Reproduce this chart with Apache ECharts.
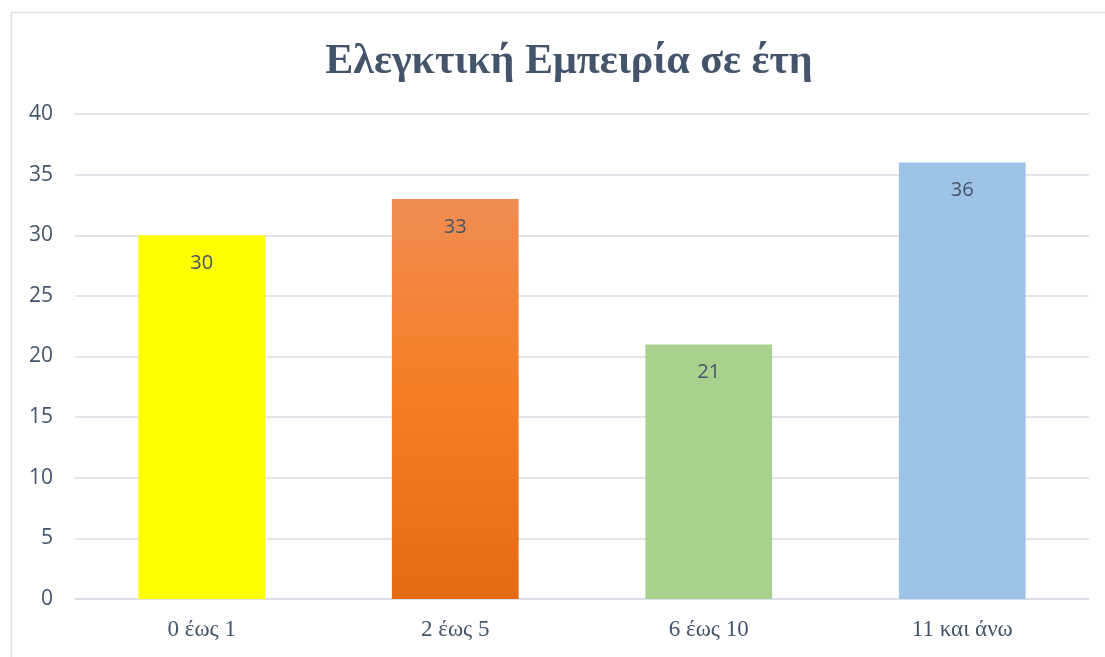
<!DOCTYPE html>
<html>
<head>
<meta charset="utf-8">
<title>Ελεγκτική Εμπειρία σε έτη</title>
<script src="https://cdn.jsdelivr.net/npm/echarts@6/dist/echarts.min.js"></script>
<style>
  html, body { margin: 0; padding: 0; background: #fff; }
  #chart { width: 1105px; height: 657px; }
</style>
</head>
<body>
<div id="chart"></div>
<script>
// δεδομένα
const categories = ['0 έως 1', '2 έως 5', '6 έως 10', '11 και άνω'];
const values = [30, 33, 21, 36];
const yTicks = [0, 5, 10, 15, 20, 25, 30, 35, 40];

const textColor = '#44546A';

// χρώματα ανά στήλη
const barColors = [
  '#FFFF00',
  new echarts.graphic.LinearGradient(0, 0, 0, 1, [
    { offset: 0, color: '#F08C52' },
    { offset: 0.5, color: '#F57D22' },
    { offset: 1, color: '#E46B14' }
  ]),
  '#A9D18E',
  '#9DC3E6'
];

const chart = echarts.init(document.getElementById('chart'));

chart.setOption({
  animation: false,
  graphic: [{
    type: 'rect',
    shape: { x: 11.5, y: 12.5, width: 1200, height: 700 },
    style: { fill: 'none', stroke: '#DCE2EA', lineWidth: 1.5 },
    silent: true
  }],
  title: {
    text: 'Ελεγκτική Εμπειρία σε έτη',
    left: 564,
    textAlign: 'center',
    top: 36,
    textStyle: {
      fontFamily: '"Liberation Serif", "DejaVu Serif", serif',
      fontWeight: 'bold',
      fontSize: 42,
      color: textColor
    }
  },
  grid: { left: 75, right: 16, top: 114, bottom: 58 },
  xAxis: {
    type: 'category',
    data: categories,
    axisLine: { lineStyle: { color: '#D9DEE6', width: 1.5 } },
    axisTick: { show: false },
    axisLabel: {
      margin: 19,
      fontFamily: '"Liberation Serif", "DejaVu Serif", serif',
      fontSize: 23,
      color: textColor
    }
  },
  yAxis: {
    type: 'value',
    min: yTicks[0],
    max: yTicks[yTicks.length - 1],
    interval: yTicks[1] - yTicks[0],
    axisLine: { show: false },
    axisTick: { show: false },
    splitLine: { lineStyle: { color: '#D9DEE6', width: 1.5 } },
    axisLabel: {
      margin: 22,
      fontFamily: '"Open Sans", "Noto Sans", sans-serif',
      fontSize: 21,
      color: textColor
    }
  },
  series: [{
    type: 'bar',
    barWidth: '50%',
    data: values.map((v, i) => ({ value: v, itemStyle: { color: barColors[i] } })),
    label: {
      show: true,
      position: 'insideTop',
      distance: 18,
      fontFamily: '"Open Sans", "Noto Sans", sans-serif',
      fontSize: 20,
      color: textColor
    }
  }]
});
</script>
</body>
</html>
